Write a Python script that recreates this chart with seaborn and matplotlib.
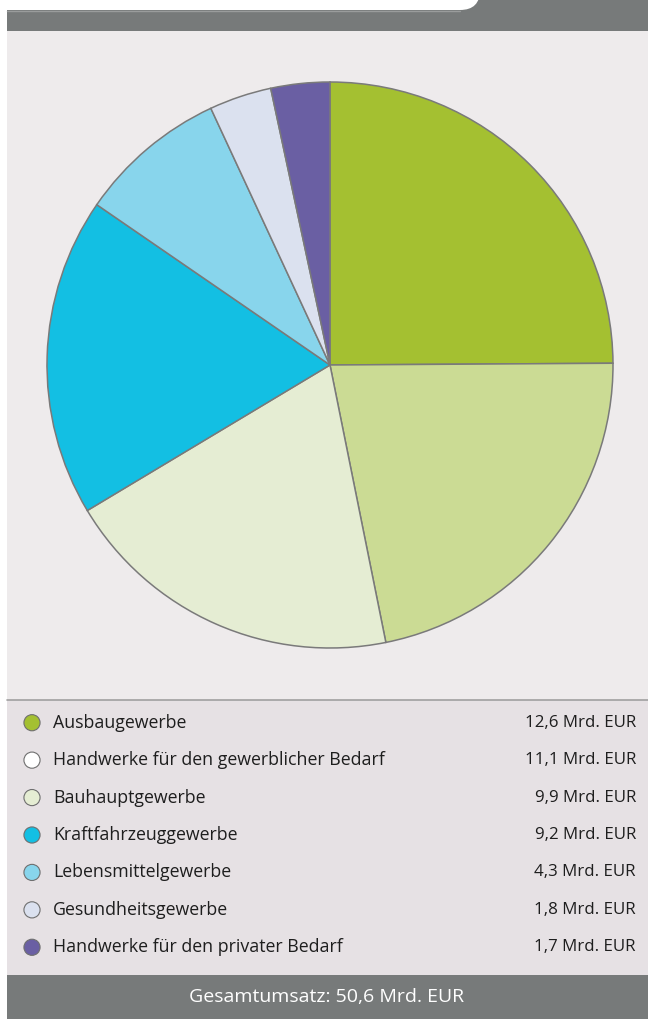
import numpy as np
import matplotlib
matplotlib.use('Agg')
import matplotlib.pyplot as plt
import seaborn as sns
from matplotlib.patches import Rectangle, FancyBboxPatch

# Data
categories = ['Ausbaugewerbe', 'Handwerke für den gewerblicher Bedarf', 'Bauhauptgewerbe',
              'Kraftfahrzeuggewerbe', 'Lebensmittelgewerbe', 'Gesundheitsgewerbe',
              'Handwerke für den privater Bedarf']
values = [12.6, 11.1, 9.9, 9.2, 4.3, 1.8, 1.7]
value_labels = ['12,6 Mrd. EUR', '11,1 Mrd. EUR', '9,9 Mrd. EUR', '9,2 Mrd. EUR',
                '4,3 Mrd. EUR', '1,8 Mrd. EUR', '1,7 Mrd. EUR']
slice_colors = ['#a4c031', '#cbdb94', '#e5edd3', '#13bfe3', '#88d5ec', '#dbe1ef', '#6a5fa3']
legend_colors = ['#a4c031', '#ffffff', '#e5edd3', '#13bfe3', '#88d5ec', '#dbe1ef', '#6a5fa3']
total_label = 'Gesamtumsatz: 50,6 Mrd. EUR'

sns.set_theme(style='white')
plt.rcParams['font.family'] = ['Open Sans', 'DejaVu Sans']

W, H = 648, 1019
fig = plt.figure(figsize=(W / 100, H / 100), dpi=100)
fig.patch.set_facecolor('white')

# background panels, drawn in pixel coords
bg = fig.add_axes([0, 0, 1, 1])
bg.set_xlim(0, W)
bg.set_ylim(H, 0)
bg.axis('off')

dark = '#777a7a'
bg.add_patch(Rectangle((7, 0), W - 7, 31, color=dark, lw=0))
# white area above the band with a rounded lower-right corner (tab look)
bg.add_patch(FancyBboxPatch((-60, -60), 540, 70, boxstyle='round,pad=0,rounding_size=20',
                            fc='white', ec='none'))
bg.plot([7, 460], [10.5, 10.5], color='#9a9c9c', lw=1)
bg.add_patch(Rectangle((7, 31), W - 7, 669, color='#eeebec', lw=0))
bg.add_patch(Rectangle((7, 700), W - 7, 275, color='#e6e1e4', lw=0))
bg.plot([7, W], [700, 700], color='#a0a0a0', lw=1.2)
bg.add_patch(Rectangle((7, 975), W - 7, 44, color=dark, lw=0))
bg.text(327, 997, total_label, color='white', fontsize=14, ha='center', va='center')

# pie
cx, cy, r = 330, 365, 283
pax = fig.add_axes([(cx - r) / W, (H - cy - r) / H, 2 * r / W, 2 * r / H])
pax.pie(values, colors=slice_colors, startangle=90, counterclock=False,
        wedgeprops=dict(edgecolor='#7a7a7a', linewidth=1.1))
pax.set_xlim(-1, 1)
pax.set_ylim(-1, 1)
pax.set_aspect('equal')

# legend rows
lax = fig.add_axes([0, (H - 966) / H, 1, (966 - 704) / H])
lax.set_xlim(0, W)
lax.set_ylim(6.5, -0.5)
lax.axis('off')
rows = np.arange(len(categories))
sns.scatterplot(x=[32] * len(categories), y=rows, hue=categories, palette=legend_colors,
                s=135, edgecolor='#6f6f6f', linewidth=0.8, legend=False, ax=lax)
for i, (c, v) in enumerate(zip(categories, value_labels)):
    lax.text(53, i, c, fontsize=12.8, va='center', ha='left', color='#1e1e1e')
    lax.text(636, i, v, fontsize=12.2, va='center', ha='right', color='#1e1e1e')

fig.savefig('out.png', dpi=100)
